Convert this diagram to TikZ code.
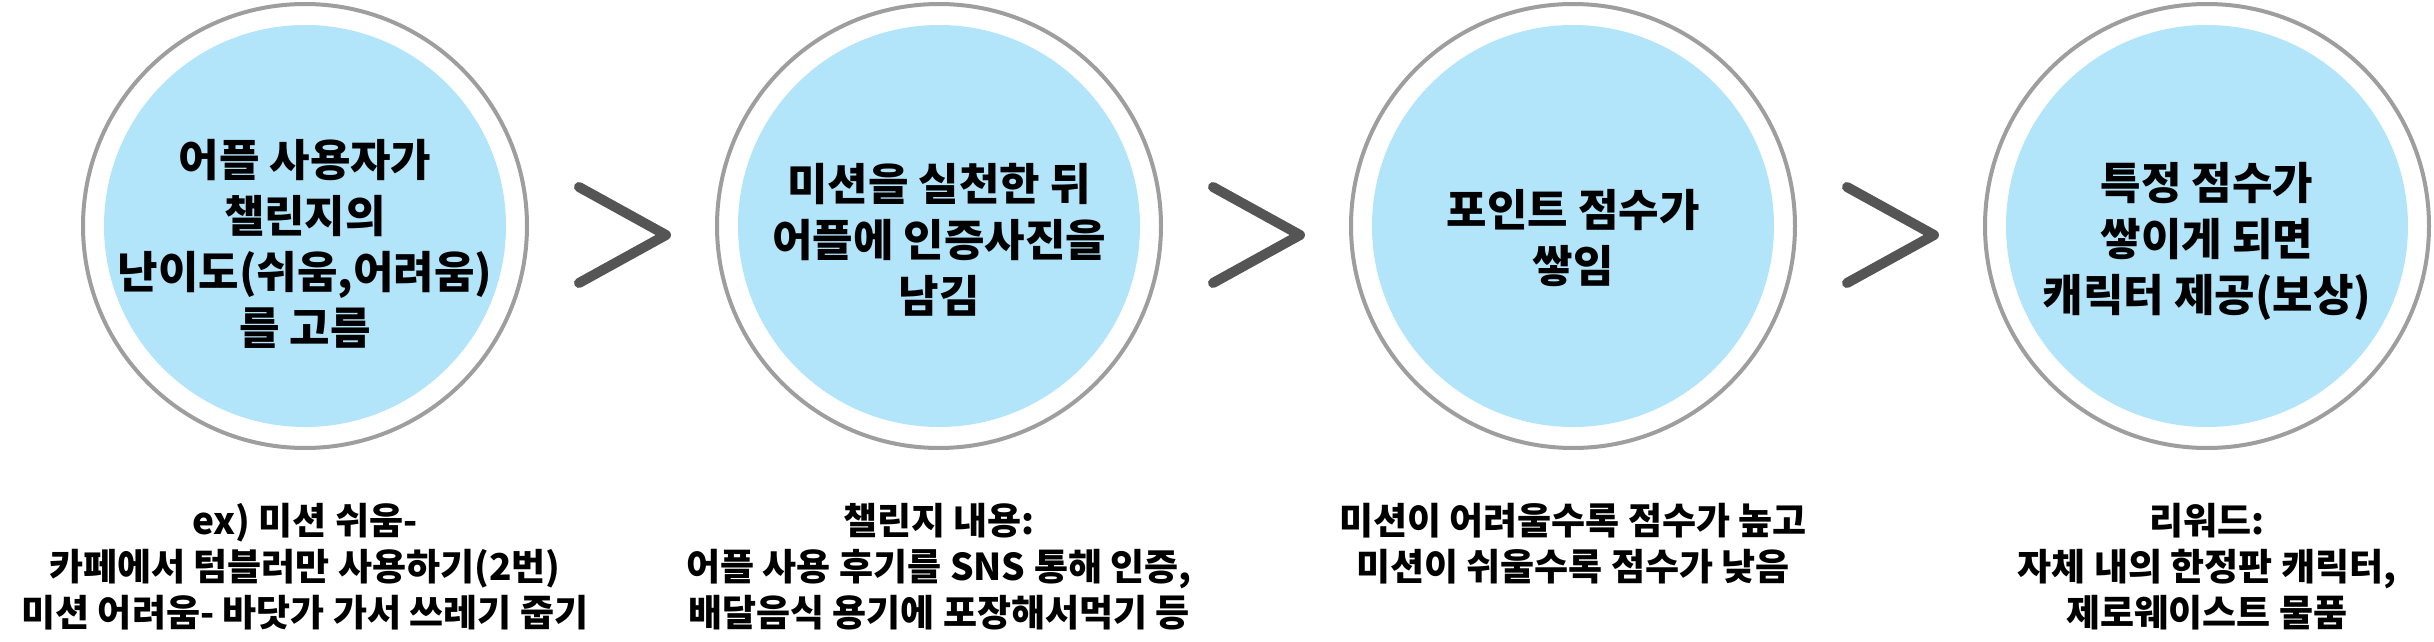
\documentclass[tikz,border=0pt]{standalone}
\usepackage{fontspec}
\setmainfont{Noto Sans CJK KR}
\definecolor{ringgray}{RGB}{158,158,158}
\definecolor{stepblue}{RGB}{178,228,250}
\definecolor{chevgray}{RGB}{85,85,85}

\begin{document}
\begin{tikzpicture}[x=0.25pt,y=-0.25pt,
  ring/.style={circle,draw=ringgray,line width=1pt,fill=white,minimum size=111pt,inner sep=0pt},
  disc/.style={circle,fill=stepblue,minimum size=100.5pt,inner sep=0pt},
  steptext/.style={align=center,inner sep=0pt,font=\fontsize{11pt}{14pt}\selectfont\bfseries},
  note/.style={align=center,anchor=north,inner sep=0pt,font=\fontsize{9.25pt}{11.5pt}\selectfont\bfseries},
  chev/.style={draw=chevgray,line width=2.5pt,line cap=round,line join=round}]
  \useasboundingbox (0,0) rectangle (2434,642);

  \node[ring] (r1) at (305,226) {};
  \node[ring] (r2) at (939,226) {};
  \node[ring] (r3) at (1573,226) {};
  \node[ring] (r4) at (2207,226) {};
  \node[disc] (d1) at (305,226) {};
  \node[disc] (d2) at (939,226) {};
  \node[disc] (d3) at (1573,226) {};
  \node[disc] (d4) at (2207,226) {};

  \node[steptext] (t1) at (305,244) {어플 사용자가\\챌린지의\\난이도(쉬움,어려움)\\를 고름};
  \node[steptext] (t2) at (939,240) {미션을 실천한 뒤\\어플에 인증사진을\\남김};
  \node[steptext] (t3) at (1573,238) {포인트 점수가\\쌓임};
  \node[steptext] (t4) at (2207,241) {특정 점수가\\쌓이게 되면\\캐릭터 제공(보상)};

  % chevrons between the steps
  \draw[chev] (579,187) -- (666,235) -- (579,283);
  \draw[chev] (1213,187) -- (1300,235) -- (1213,283);
  \draw[chev] (1847,187) -- (1934,235) -- (1847,283);

  \node[note] (n1) at (305,502) {ex) 미션 쉬움-\\카페에서 텀블러만 사용하기(2번)\\미션 어려움- 바닷가 가서 쓰레기 줍기};
  \node[note] (n2) at (939,502) {챌린지 내용:\\어플 사용 후기를 SNS 통해 인증,\\배달음식 용기에 포장해서먹기 등};
  \node[note] (n3) at (1573,502) {미션이 어려울수록 점수가 높고\\미션이 쉬울수록 점수가 낮음};
  \node[note] (n4) at (2207,502) {리워드:\\자체 내의 한정판 캐릭터,\\제로웨이스트 물품};
\end{tikzpicture}
\end{document}
